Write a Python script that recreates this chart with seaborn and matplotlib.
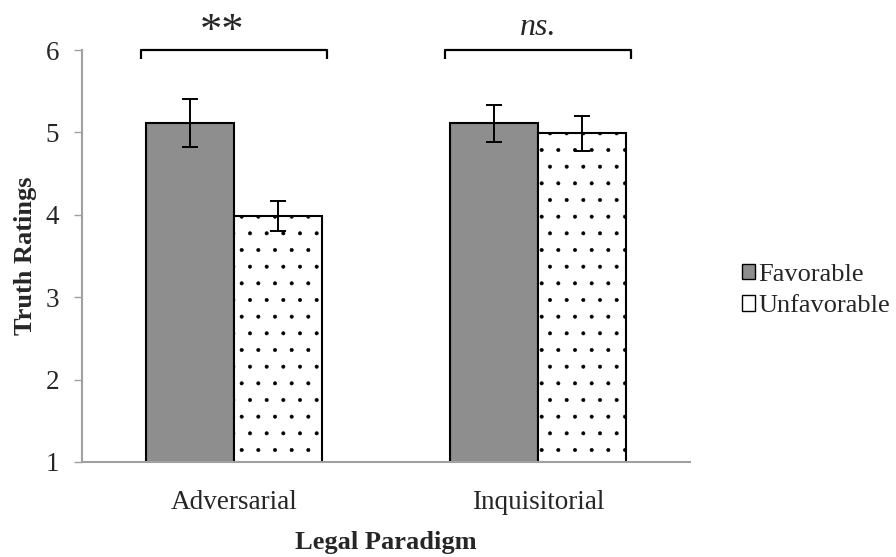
import numpy as np
import pandas as pd
import matplotlib
matplotlib.use("Agg")
import matplotlib.pyplot as plt
import seaborn as sns
from matplotlib.patches import Patch

paradigms = ["Adversarial", "Inquisitorial"]
conditions = ["Favorable", "Unfavorable"]
means_favorable = [5.12, 5.11]
means_unfavorable = [3.99, 4.99]
err_favorable = [0.29, 0.22]
err_unfavorable = [0.18, 0.21]
sig_labels = ["**", "ns."]

df = pd.DataFrame({
    "Paradigm": paradigms * 2,
    "Condition": [conditions[0]] * 2 + [conditions[1]] * 2,
    "Rating": means_favorable + means_unfavorable,
    "Err": err_favorable + err_unfavorable,
})

sns.set_style("white")
plt.rcParams["font.family"] = ["Liberation Serif", "DejaVu Serif"]
plt.rcParams["hatch.linewidth"] = 0.4
plt.rcParams["hatch.color"] = "black"

fig = plt.figure(figsize=(8.96, 5.57), dpi=100)
ax = fig.add_axes([0.0915, 0.1706, 0.6785, 0.7394])

sns.barplot(data=df, x="Paradigm", y="Rating", hue="Condition",
            palette=["#8e8e8e", "white"], width=0.58, errorbar=None,
            edgecolor="black", linewidth=1.5, legend=False, ax=ax)

# hatch for unfavorable bars and error bars at bar centres
for patch in ax.patches:
    cx = patch.get_x() + patch.get_width() / 2
    h = patch.get_height()
    row = df[np.isclose(df["Rating"], h)].iloc[0]
    if row["Condition"] == "Unfavorable":
        patch.set_hatch(".")
    ax.errorbar(cx, h, yerr=row["Err"], color="black", capsize=5.5,
                capthick=1.4, elinewidth=1.4, fmt="none", zorder=5)

ax.set_ylim(1, 6)
ax.set_xlim(-0.5, 1.5)
ax.set_yticks([1, 2, 3, 4, 5, 6])
ax.tick_params(axis="y", direction="out", length=5.5, width=1, color="#a0a0a0",
               labelsize=19.5, pad=11, left=True)
ax.tick_params(axis="x", length=0, labelsize=19.5, pad=20)
for s in ["top", "right"]:
    ax.spines[s].set_visible(False)
for s in ["left", "bottom"]:
    ax.spines[s].set_color("#a0a0a0")
    ax.spines[s].set_linewidth(1.5)

ax.set_xlabel("Legal Paradigm", fontsize=19, fontweight="bold", labelpad=12)
ax.set_ylabel("Truth Ratings", fontsize=19, fontweight="bold", labelpad=6)

# significance brackets
for i, lab in enumerate(sig_labels):
    ax.plot([i - 0.305, i - 0.305, i + 0.305, i + 0.305], [5.89, 6.0, 6.0, 5.89],
            color="black", lw=1.6, clip_on=False, solid_capstyle="butt")
    if lab == "**":
        ax.text(i - 0.04, 6.22, lab, ha="center", va="center", fontsize=32, clip_on=False)
    else:
        ax.text(i, 6.28, lab, ha="center", va="center", fontsize=23,
                style="italic", clip_on=False)

handles = [Patch(facecolor="#8e8e8e", edgecolor="black", label=conditions[0]),
           Patch(facecolor="white", edgecolor="black", label=conditions[1])]
fig.legend(handles=handles, loc="center left", bbox_to_anchor=(0.816, 0.478),
           frameon=False, fontsize=19, handlelength=0.5, handleheight=0.5,
           handletextpad=0.12, labelspacing=0.35, borderaxespad=0)

fig.savefig("out.png", dpi=100)
